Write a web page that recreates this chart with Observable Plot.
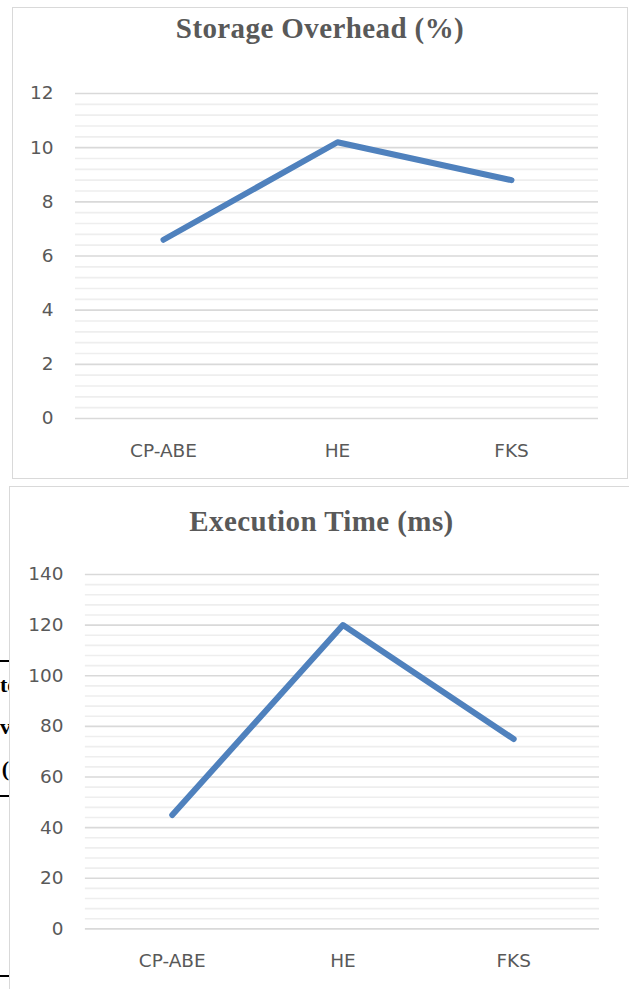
<!DOCTYPE html>
<html>
<head>
<meta charset="utf-8">
<script src="https://cdn.jsdelivr.net/npm/d3@7"></script>
<script src="https://cdn.jsdelivr.net/npm/@observablehq/plot@0.6"></script>
<style>
  html, body { margin: 0; padding: 0; background: #fff; width: 629px; height: 989px; overflow: hidden; }
  #root { position: relative; width: 629px; height: 989px; }
  .box { position: absolute; border: 1.5px solid #d9d9d9; box-sizing: border-box; background: #fff; }
  .title { position: absolute; left: 0; right: 0; text-align: center; font-family: "Liberation Serif", serif; font-weight: bold; font-size: 29px; letter-spacing: 0.4px; color: #595959; }
  .chart { position: absolute; }
  .frag { position: absolute; left: 0; width: 9px; overflow: hidden; font-family: "Liberation Serif", serif; font-weight: bold; font-size: 22px; color: #000; }
  .frag span { display: block; text-align: right; white-space: nowrap; }
  .hl { position: absolute; left: 0; width: 9px; height: 2px; background: #000; }
</style>
</head>
<body>
<div id="root">
  <div class="box" style="left:12px; top:7px; width:616px; height:472px;">
    <div class="title" style="top:4px;">Storage Overhead (%)</div>
  </div>
  <div class="chart" id="c1" style="left:12px; top:70px;"></div>

  <div class="box" style="left:9px; top:486px; width:625px; height:510px;">
    <div class="title" style="top:18px;">Execution Time (ms)</div>
  </div>
  <div class="chart" id="c2" style="left:10px; top:550px;"></div>

  <div class="hl" style="top:660px;"></div>
  <div class="hl" style="top:795px;"></div>
  <div class="hl" style="top:975px;"></div>
  <div class="frag" style="top:672px;"><span>te</span></div>
  <div class="frag" style="top:714px;"><span>ve</span></div>
  <div class="frag" style="top:756px;"><span>(</span></div>
</div>
<script>
// Data
const schemes = ["CP-ABE", "HE", "FKS"];
const storageOverhead = [6.6, 10.2, 8.8];
const executionTime = [45, 120, 75];

const storageMajorTicks = [0, 2, 4, 6, 8, 10, 12];
const storageMinorTicks = [0.4, 0.8, 1.2, 1.6, 2.4, 2.8, 3.2, 3.6, 4.4, 4.8, 5.2, 5.6, 6.4, 6.8, 7.2, 7.6, 8.4, 8.8, 9.2, 9.6, 10.4, 10.8, 11.2, 11.6];
const timeMajorTicks = [0, 20, 40, 60, 80, 100, 120, 140];
const timeMinorTicks = [4, 8, 12, 16, 24, 28, 32, 36, 44, 48, 52, 56, 64, 68, 72, 76, 84, 88, 92, 96, 104, 108, 112, 116, 124, 128, 132, 136];

const font = "DejaVu Sans, sans-serif";
const lineColor = "#4f81bd";

function makeChart({values, yMax, major, minor, width, height, mt, mb, ml, mr}) {
  const data = schemes.map((s, i) => ({scheme: s, value: values[i]}));
  return Plot.plot({
    width, height,
    marginTop: mt, marginBottom: mb, marginLeft: ml, marginRight: mr,
    style: {fontFamily: font, fontSize: "18.5px", color: "#595959", background: "transparent", overflow: "visible"},
    x: {type: "point", domain: schemes, padding: 0.5, label: null},
    y: {domain: [0, yMax], label: null},
    marks: [
      Plot.ruleY(minor, {stroke: "#eeeeee", strokeWidth: 1.6}),
      Plot.ruleY(major, {stroke: "#d9d9d9", strokeWidth: 1.6}),
      Plot.axisY({ticks: major, tickSize: 0, tickPadding: 22, label: null, fill: "#595959", fontSize: 18.5}),
      Plot.axisX({tickSize: 0, tickPadding: 25, label: null, fill: "#595959", fontSize: 18.5}),
      Plot.line(data, {x: "scheme", y: "value", stroke: lineColor, strokeWidth: 6, strokeLinecap: "round", strokeLinejoin: "round"})
    ]
  });
}

document.getElementById("c1").appendChild(makeChart({
  values: storageOverhead, yMax: 12, major: storageMajorTicks, minor: storageMinorTicks,
  width: 615, height: 400, mt: 23, mb: 52, ml: 63, mr: 29
}));
document.getElementById("c2").appendChild(makeChart({
  values: executionTime, yMax: 140, major: timeMajorTicks, minor: timeMinorTicks,
  width: 620, height: 430, mt: 24, mb: 51, ml: 75, mr: 30
}));
</script>
</body>
</html>
